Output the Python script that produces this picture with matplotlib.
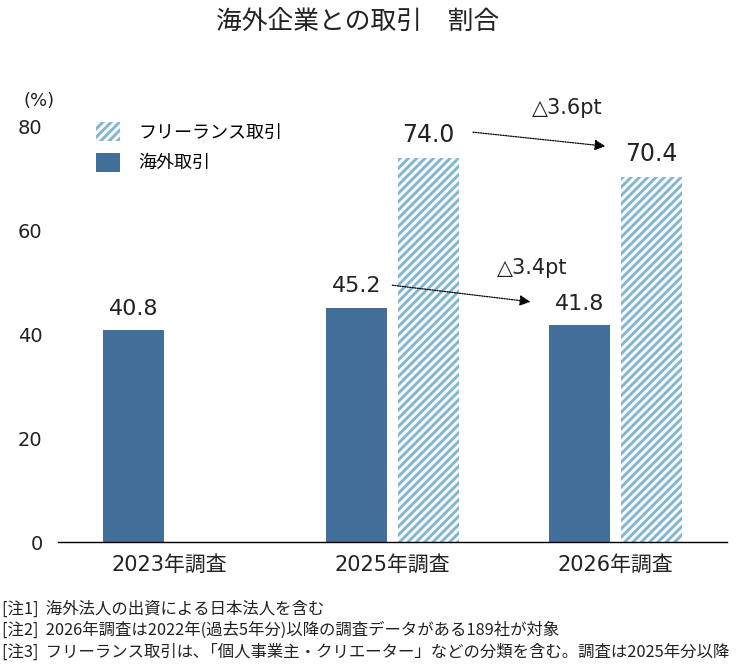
import numpy as np
import matplotlib
matplotlib.use('Agg')
import matplotlib.pyplot as plt
from matplotlib.patches import Patch

plt.rcParams['font.family'] = ['DejaVu Sans', 'Noto Sans CJK JP']
plt.rcParams['hatch.linewidth'] = 2.0
JP = ['Noto Sans CJK JP', 'DejaVu Sans']

# データ
categories = ['2023年調査', '2025年調査', '2026年調査']
overseas = [40.8, 45.2, 41.8]          # 海外取引
freelance = [np.nan, 74.0, 70.4]       # フリーランス取引
series_names = ['フリーランス取引', '海外取引']
diff_labels = ['△3.6pt', '△3.4pt']
notes = [
    '[注1]  海外法人の出資による日本法人を含む',
    '[注2]  2026年調査は2022年(過去5年分)以降の調査データがある189社が対象',
    '[注3]  フリーランス取引は､「個人事業主・クリエーター」などの分類を含む。調査は2025年分以降',
]

solid_color = '#426f99'
hatch_color = '#84b4cb'
hatch_face = '#f4fafc'
text_color = '#222222'

fig = plt.figure(figsize=(7.48, 6.66), dpi=100)
ax = fig.add_axes([58 / 748, 124 / 666, 669 / 748, 415 / 666])

x = np.arange(len(categories))
off = 0.161
w = 0.27

ax.bar(x - off, overseas, w, color=solid_color, linewidth=0)
ax.bar(x + off, freelance, w, color=hatch_face, edgecolor=hatch_color,
       hatch='////', linewidth=0)

# 値ラベル
for xi, v in zip(x - off, overseas):
    ax.annotate(f'{v:.1f}', (xi, v), xytext=(0, 8), textcoords='offset points',
                ha='center', va='bottom', fontsize=16, color=text_color)
for xi, v in zip(x + off, freelance):
    if np.isnan(v):
        continue
    ax.annotate(f'{v:.1f}', (xi, v), xytext=(0, 8), textcoords='offset points',
                ha='center', va='bottom', fontsize=17, color=text_color)

# 矢印（点線）
arrow_kw = dict(arrowstyle='-|>', linestyle=(0, (1, 1)), color='black',
                lw=0.9, mutation_scale=16, shrinkA=0, shrinkB=0)
ax.annotate('', xy=(x[2] - 0.045, freelance[2] + 5.9),
            xytext=(x[1] + off + 0.2, freelance[1] + 5.0), arrowprops=arrow_kw,
            annotation_clip=False)
ax.annotate('', xy=(x[2] - off - 0.22, overseas[2] + 4.5),
            xytext=(x[1] - off + 0.16, overseas[1] + 4.3), arrowprops=arrow_kw,
            annotation_clip=False)
ax.text(x[2] - 0.215, freelance[1] + 9.7, diff_labels[0], ha='center', va='center',
        fontsize=15, color=text_color)
ax.text(x[2] - 0.372, overseas[2] + 11.0, diff_labels[1], ha='center', va='center',
        fontsize=15, color=text_color)

ax.set_xlim(-0.5, 2.5)
ax.set_ylim(0, 80)
ax.set_yticks([0, 20, 40, 60, 80])
ax.set_xticks(x)
ax.set_xticklabels(categories)
ax.tick_params(axis='both', length=0, colors=text_color)
ax.tick_params(axis='y', pad=11, labelsize=14)
ax.tick_params(axis='x', pad=9, labelsize=15)
for s in ['top', 'right', 'left']:
    ax.spines[s].set_visible(False)
ax.spines['bottom'].set_linewidth(1.0)
ax.spines['bottom'].set_color('black')

ax.text(-0.585, 85.0, '(%)', ha='center', va='center', fontsize=13,
        color=text_color)

handles = [Patch(facecolor=hatch_face, edgecolor=hatch_color, hatch='////', linewidth=0),
           Patch(facecolor=solid_color, linewidth=0)]
ax.legend(handles, series_names, loc='upper left', frameon=False,
          bbox_to_anchor=(96 / 748, 1 - 122 / 666), bbox_transform=fig.transFigure,
          borderpad=0, borderaxespad=0, handlelength=1.35, handleheight=1.25,
          handletextpad=1.0, labelspacing=0.62, fontsize=13)

fig.text(358 / 748, 1 - 22 / 666, '海外企業との取引　割合', ha='center', va='center',
         fontsize=18.5, color=text_color, family=JP)

for i, n in enumerate(notes):
    fig.text(2 / 748, 1 - (609 + 21.5 * i) / 666, n, ha='left', va='center',
             fontsize=11.8, color=text_color, family=JP)

fig.savefig('out.png', dpi=100)
